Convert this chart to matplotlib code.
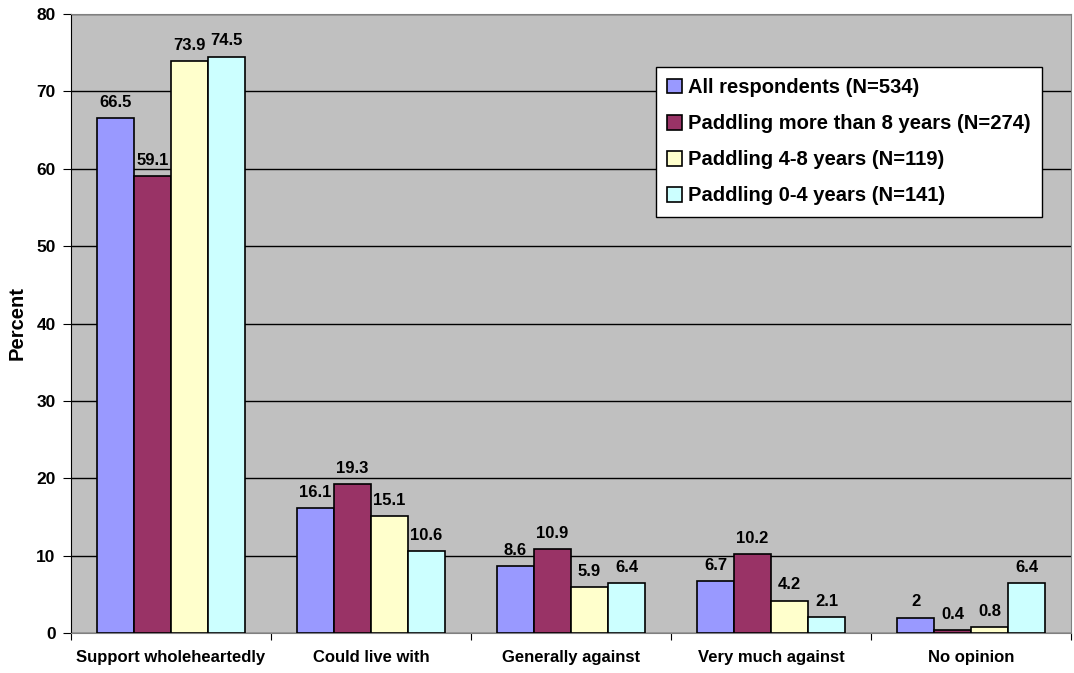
import matplotlib.pyplot as plt
import numpy as np

plt.rcParams['font.family'] = ['Liberation Sans', 'DejaVu Sans']
plt.rcParams['font.weight'] = 'bold'

categories = ['Support wholeheartedly', 'Could live with', 'Generally against',
              'Very much against', 'No opinion']
series = ['All respondents (N=534)', 'Paddling more than 8 years (N=274)',
          'Paddling 4-8 years (N=119)', 'Paddling 0-4 years (N=141)']
all_resp = [66.5, 16.1, 8.6, 6.7, 2]
more_8 = [59.1, 19.3, 10.9, 10.2, 0.4]
yrs_4_8 = [73.9, 15.1, 5.9, 4.2, 0.8]
yrs_0_4 = [74.5, 10.6, 6.4, 2.1, 6.4]
colors = ['#9999FF', '#993366', '#FFFFCC', '#CCFFFF']

fig = plt.figure(figsize=(10.74, 6.73), dpi=100)
ax = fig.add_axes([71 / 1074, 1 - 633 / 673, 1000 / 1074, 619 / 673])
ax.set_facecolor('#C0C0C0')

x = np.arange(len(categories))
w = 0.185
for i, (vals, lab) in enumerate(zip([all_resp, more_8, yrs_4_8, yrs_0_4], series)):
    pos = x + (i - 1.5) * w
    ax.bar(pos, vals, w, color=colors[i], edgecolor='black', linewidth=1.2,
           label=lab, zorder=3)
    for p, v in zip(pos, vals):
        ax.annotate(f'{v:g}', (p, v), xytext=(0, 8), textcoords='offset points',
                    ha='center', va='baseline', fontsize=12,
                    fontweight='bold', zorder=4)

ax.set_xlim(-0.5, len(categories) - 0.5)
ax.set_ylim(0, 80)
ax.set_yticks(range(0, 81, 10))
ax.yaxis.grid(True, color='black', linewidth=1, zorder=0)
ax.set_xticks(np.arange(-0.5, len(categories), 1))
ax.set_xticklabels([])
ax.set_xticks(x, minor=True)
ax.set_xticklabels(categories, minor=True, fontsize=12, fontweight='bold')
ax.tick_params(axis='x', which='minor', length=0, pad=12)
ax.tick_params(axis='x', which='major', length=5, direction='out', color='black')
ax.tick_params(axis='y', length=6, direction='out', labelsize=12.5, pad=5)
for lab in ax.get_yticklabels():
    lab.set_fontweight('bold')
for s in ['top', 'right']:
    ax.spines[s].set_color('#808080')
ax.spines['left'].set_color('black')
ax.spines['bottom'].set_color('#808080')
ax.set_ylabel('Percent', fontsize=14.5, fontweight='bold', labelpad=7)

leg = ax.legend(loc='upper left', bbox_to_anchor=(585 / 1000, 1 - 53 / 619),
                fontsize=14.5, frameon=True, fancybox=False, edgecolor='black',
                facecolor='white', framealpha=1,
                handlelength=0.75, handleheight=0.75, handletextpad=0.3,
                labelspacing=0.85, borderpad=0.55, borderaxespad=0)
leg.get_frame().set_linewidth(1)
for t in leg.get_texts():
    t.set_fontweight('bold')

fig.savefig('out.png', dpi=100)
